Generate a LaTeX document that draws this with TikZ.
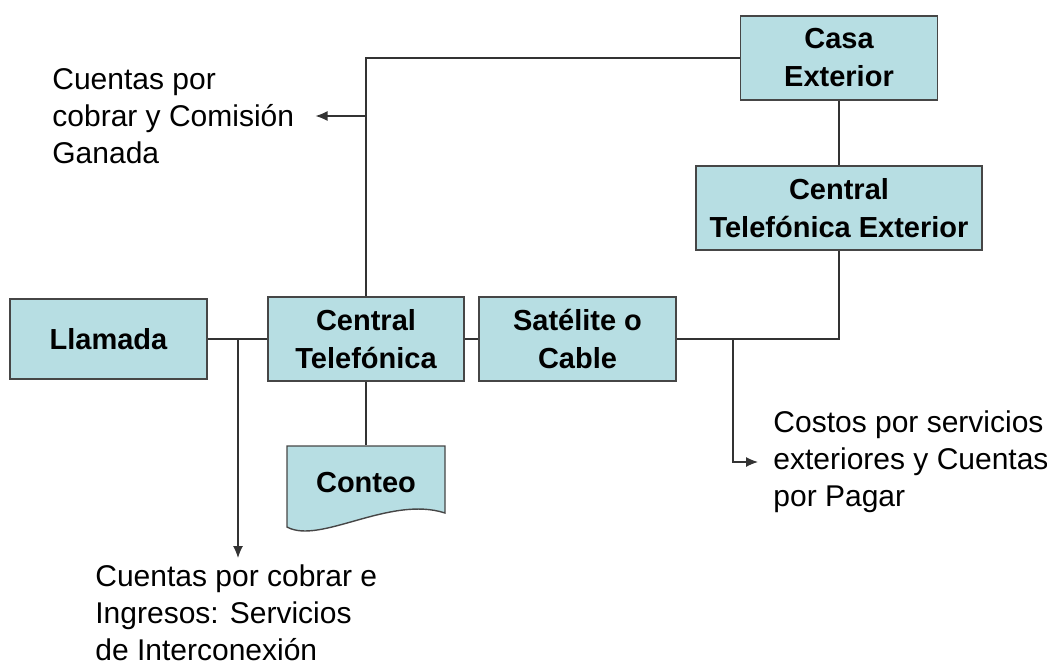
\documentclass[tikz,border=0pt]{standalone}
\usepackage{fontspec}
\setmainfont{Liberation Sans}
\usepackage{tikz}
\usetikzlibrary{arrows.meta, positioning, shapes}

\definecolor{boxfill}{RGB}{183,222,227}
\definecolor{boxline}{RGB}{70,70,70}

\tikzset{
  box/.style  = {draw=boxline, fill=boxfill, line width=0.7pt, minimum height=42pt,
                 align=center, inner sep=0pt, font=\bfseries\fontsize{14.5}{19}\selectfont},
  note/.style = {align=left, anchor=west, inner sep=0pt, font=\fontsize{15}{18.5}\selectfont},
  wire/.style = {draw=black!80, line width=0.6pt},
  tip/.style  = {-{Latex[length=6pt, width=5pt]}},
}

\begin{document}
\begin{tikzpicture}[x=0.5pt, y=-0.5pt]

\useasboundingbox (0,0) rectangle (1047,665);

\node [box, minimum width=98.5pt, minimum height=40pt] (llamada)  at (108.5,339) {Llamada};
\node [box, minimum width=98pt                      ] (central)  at (366,339)   {Central\\Telefónica};
\node [box, minimum width=98.5pt                    ] (satelite) at (577.5,339) {Satélite o\\Cable};
\node [box, minimum width=98.5pt                    ] (casa)     at (839,58)    {Casa\\Exterior};
\node [box, minimum width=143pt                     ] (ctext)    at (839,208)   {Central\\Telefónica Exterior};

% document shape
\path [fill=boxfill, draw=boxline, line width=0.7pt]
  (287,446) -- (445,446) -- (445,513)
  .. controls (390,495) and (320,545) .. (287,527) -- cycle;
\node [box, draw=none, fill=none, minimum width=79pt, minimum height=37pt] (conteo) at (366,483) {Conteo};

\node [note] (cobrar)   at (52,116)  {Cuentas por\\cobrar y Comisión\\Ganada};
\node [note] (costos)   at (773,462) {Costos por servicios\\exteriores y Cuentas\\por Pagar};
\node [note] (ingresos) at (95,613)  {Cuentas por cobrar e\\Ingresos: Servicios\\de Interconexión};

\coordinate (j1) at (366,116);
\coordinate (j2) at (238,339);
\coordinate (a2) at (238,558);
\coordinate (j3) at (733,339);

\path [wire] (llamada) -- (central);
\path [wire] (central) -- (satelite);
\path [wire] (central.south) -- (conteo.north);
\path [wire] (central.north) |- (casa.west);
\path [wire] (casa.south) -- (ctext.north);
\path [wire] (ctext.south) |- (satelite.east);

\path [wire, tip] (j1) -- ([xshift=10.5pt]cobrar.east);
\path [wire, tip] (j2) -- (a2);
\path [wire, tip] (j3) |- ([xshift=-7.5pt]costos.west);

\end{tikzpicture}
\end{document}
